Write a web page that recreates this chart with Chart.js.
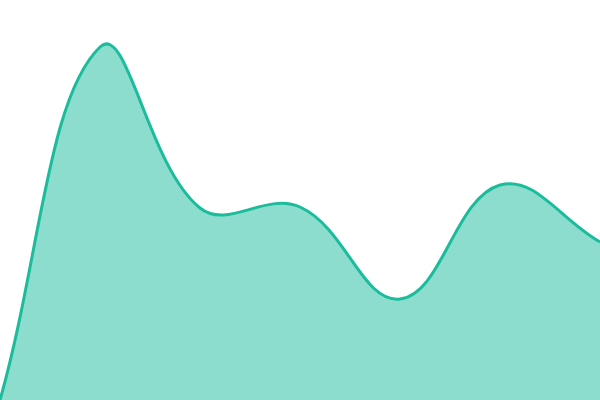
<!DOCTYPE html>
<html>
<head>
<meta charset="utf-8">
<script src="https://cdn.jsdelivr.net/npm/chart.js@4"></script>
<style>
  html, body { margin: 0; padding: 0; background: #fff; }
  #wrap { width: 600px; height: 400px; }
</style>
</head>
<body>
<div id="wrap"><canvas id="area-chart"></canvas></div>
<script>
// Chart values
const labels = ['1', '2', '3', '4', '5', '6', '7'];
const values = [0, 353, 192, 193, 101, 215, 158];
const yMin = 0;
const yMax = 400;

const ctx = document.getElementById('area-chart').getContext('2d');
new Chart(ctx, {
    type: 'line',
    data: {
        labels: labels,
        datasets: [{
            data: values,
            fill: 'origin',
            backgroundColor: 'rgba(26, 188, 156, 0.5)',
            borderColor: '#1abc9c',
            borderWidth: 3,
            tension: 0.4,
            pointRadius: 0
        }]
    },
    options: {
        responsive: true,
        maintainAspectRatio: false,
        animation: false,
        layout: { padding: 0 },
        scales: {
            x: { display: false, offset: false },
            y: { display: false, min: yMin, max: yMax }
        },
        plugins: {
            legend: { display: false },
            tooltip: { enabled: false }
        }
    }
});
</script>
</body>
</html>
